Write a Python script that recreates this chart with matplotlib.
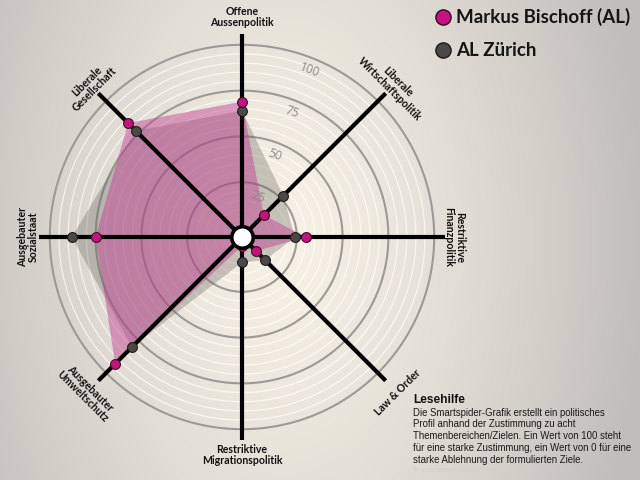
import numpy as np
import matplotlib
matplotlib.use("Agg")
from matplotlib import pyplot as plt

# Smartspider: Markus Bischoff (AL) vs. AL Zürich
categories = ["Offene\nAussenpolitik", "Liberale\nWirtschaftspolitik",
              "Restriktive\nFinanzpolitik", "Law & Order",
              "Restriktive\nMigrationspolitik", "Ausgebauter\nUmweltschutz",
              "Ausgebauter\nSozialstaat", "Liberale\nGesellschaft"]
markus = [69, 12, 30, 6, 0, 93, 75, 83]
al_zh = [64, 27, 24, 13, 9, 80, 88, 77]
ring_ticks = [25, 50, 75, 100]
series_names = ["Markus Bischoff (AL)", "AL Zürich"]

pink = "#c4127e"
dark = "#4a4945"
label_rot = [0, -45, -90, 45, 0, -45, 90, 45]

fig = plt.figure(figsize=(6.4, 4.8), dpi=100)

# background gradient
bg = fig.add_axes([0, 0, 1, 1], zorder=-2)
yy, xx = np.mgrid[0:480, 0:640]
d = np.sqrt(((xx - 285) / 360.0) ** 2 + ((yy - 240) / 600.0) ** 2)
d = np.clip(d, 0, 1) ** 1.3
cream = np.array([247, 241, 229]) / 255.0
grey = np.array([192, 190, 187]) / 255.0
img = cream[None, None, :] * (1 - d[..., None]) + grey[None, None, :] * d[..., None]
bg.imshow(img, aspect="auto", extent=[0, 640, 480, 0])
bg.axis("off")

rorig = -4.9
rmax = 125
ax = fig.add_axes([4 / 640, 5 / 480, 476 / 640, 476 / 480], projection="polar")
ax.set_theta_zero_location("N")
ax.set_theta_direction(-1)
ax.set_ylim(0, rmax)
ax.set_rorigin(rorig)
ax.patch.set_alpha(0)
ax.spines["polar"].set_visible(False)
ax.set_xticks([])
ax.set_yticks([])
ax.grid(False)

angles = np.deg2rad(np.arange(len(categories)) * 45.0)
circ = np.linspace(0, 2 * np.pi, 400)

# thin white rings
for v in range(5, 100, 5):
    if v % 25:
        ax.plot(circ, np.full_like(circ, v), color="white", lw=0.9, alpha=0.7, zorder=1)
for v in ring_ticks:
    ax.plot(circ, np.full_like(circ, v), color="#9b9a98", lw=1.5, zorder=2)

# filled profiles
ta = np.append(angles, angles[0])
ax.fill(ta, np.append(al_zh, al_zh[0]), color=(0.36, 0.35, 0.32), alpha=0.3, lw=0, zorder=3)
ax.fill(ta, np.append(markus, markus[0]), color=(0.76, 0.26, 0.58), alpha=0.48, lw=0, zorder=4)

for v in ring_ticks:
    ax.text(np.deg2rad(22), v - 6.5, str(v), color="#8a8886", fontsize=8.5,
            rotation=-20, ha="center", va="center", zorder=4.5, family="Open Sans",
            clip_on=False)

# spokes
for a in angles:
    ax.plot([a, a], [rorig, 106], color="black", lw=3.0, solid_capstyle="butt",
            zorder=5, clip_on=False)

ax.scatter(angles, al_zh, s=50, color=dark, edgecolors="#1e1e1e", linewidths=0.8, zorder=6)
ax.scatter(angles, markus, s=50, color=pink, edgecolors="#3a1028", linewidths=0.8, zorder=7)
ax.scatter([0], [rorig], s=240, color="white", edgecolors="black", linewidths=2.6,
           zorder=8, clip_on=False)

# category labels
label_r = [115, 112, 111, 115, 114, 115, 112, 112]
for a, lab, rot, r in zip(angles, categories, label_rot, label_r):
    ax.text(a, r, lab, rotation=rot, ha="center", va="center", multialignment="center",
            rotation_mode="anchor", fontsize=7.6, fontweight="bold", family="Lato",
            color="#111111", linespacing=1.0, clip_on=False)

# legend
lax = fig.add_axes([0, 0, 1, 1], zorder=5)
lax.set_xlim(0, 640)
lax.set_ylim(480, 0)
lax.axis("off")
lax.patch.set_alpha(0)
lax.scatter([443], [17], s=120, color=pink, edgecolors="#2a1020", linewidths=1.0)
lax.scatter([443], [50], s=120, color=dark, edgecolors="#1a1a1a", linewidths=1.0)
lax.text(456, 17, series_names[0], fontsize=13.5, fontweight="bold", family="Lato",
         va="center", ha="left", color="#151515")
lax.text(456, 50, series_names[1], fontsize=13.5, fontweight="bold", family="Lato",
         va="center", ha="left", color="#151515")

# reading help
lax.text(413, 400, "Lesehilfe", fontsize=8.6, fontweight="bold", family="Liberation Sans",
         va="center", ha="left", color="#111111")
help_text = ("Die Smartspider-Grafik erstellt ein politisches\n"
             "Profil anhand der Zustimmung zu acht\n"
             "Themenbereichen/Zielen. Ein Wert von 100 steht\n"
             "für eine starke Zustimmung, ein Wert von 0 für eine\n"
             "starke Ablehnung der formulierten Ziele.")
lax.text(413, 407.5, help_text, fontsize=6.9, family="Liberation Sans", va="top", ha="left",
         color="#1a1a1a", linespacing=1.24)
lax.text(413, 471, "© www.smartvote.ch / www.sotomo.ch", fontsize=5, family="Liberation Sans",
         va="center", ha="left", color="#d2d0cc")

fig.savefig("out.png", dpi=100)
